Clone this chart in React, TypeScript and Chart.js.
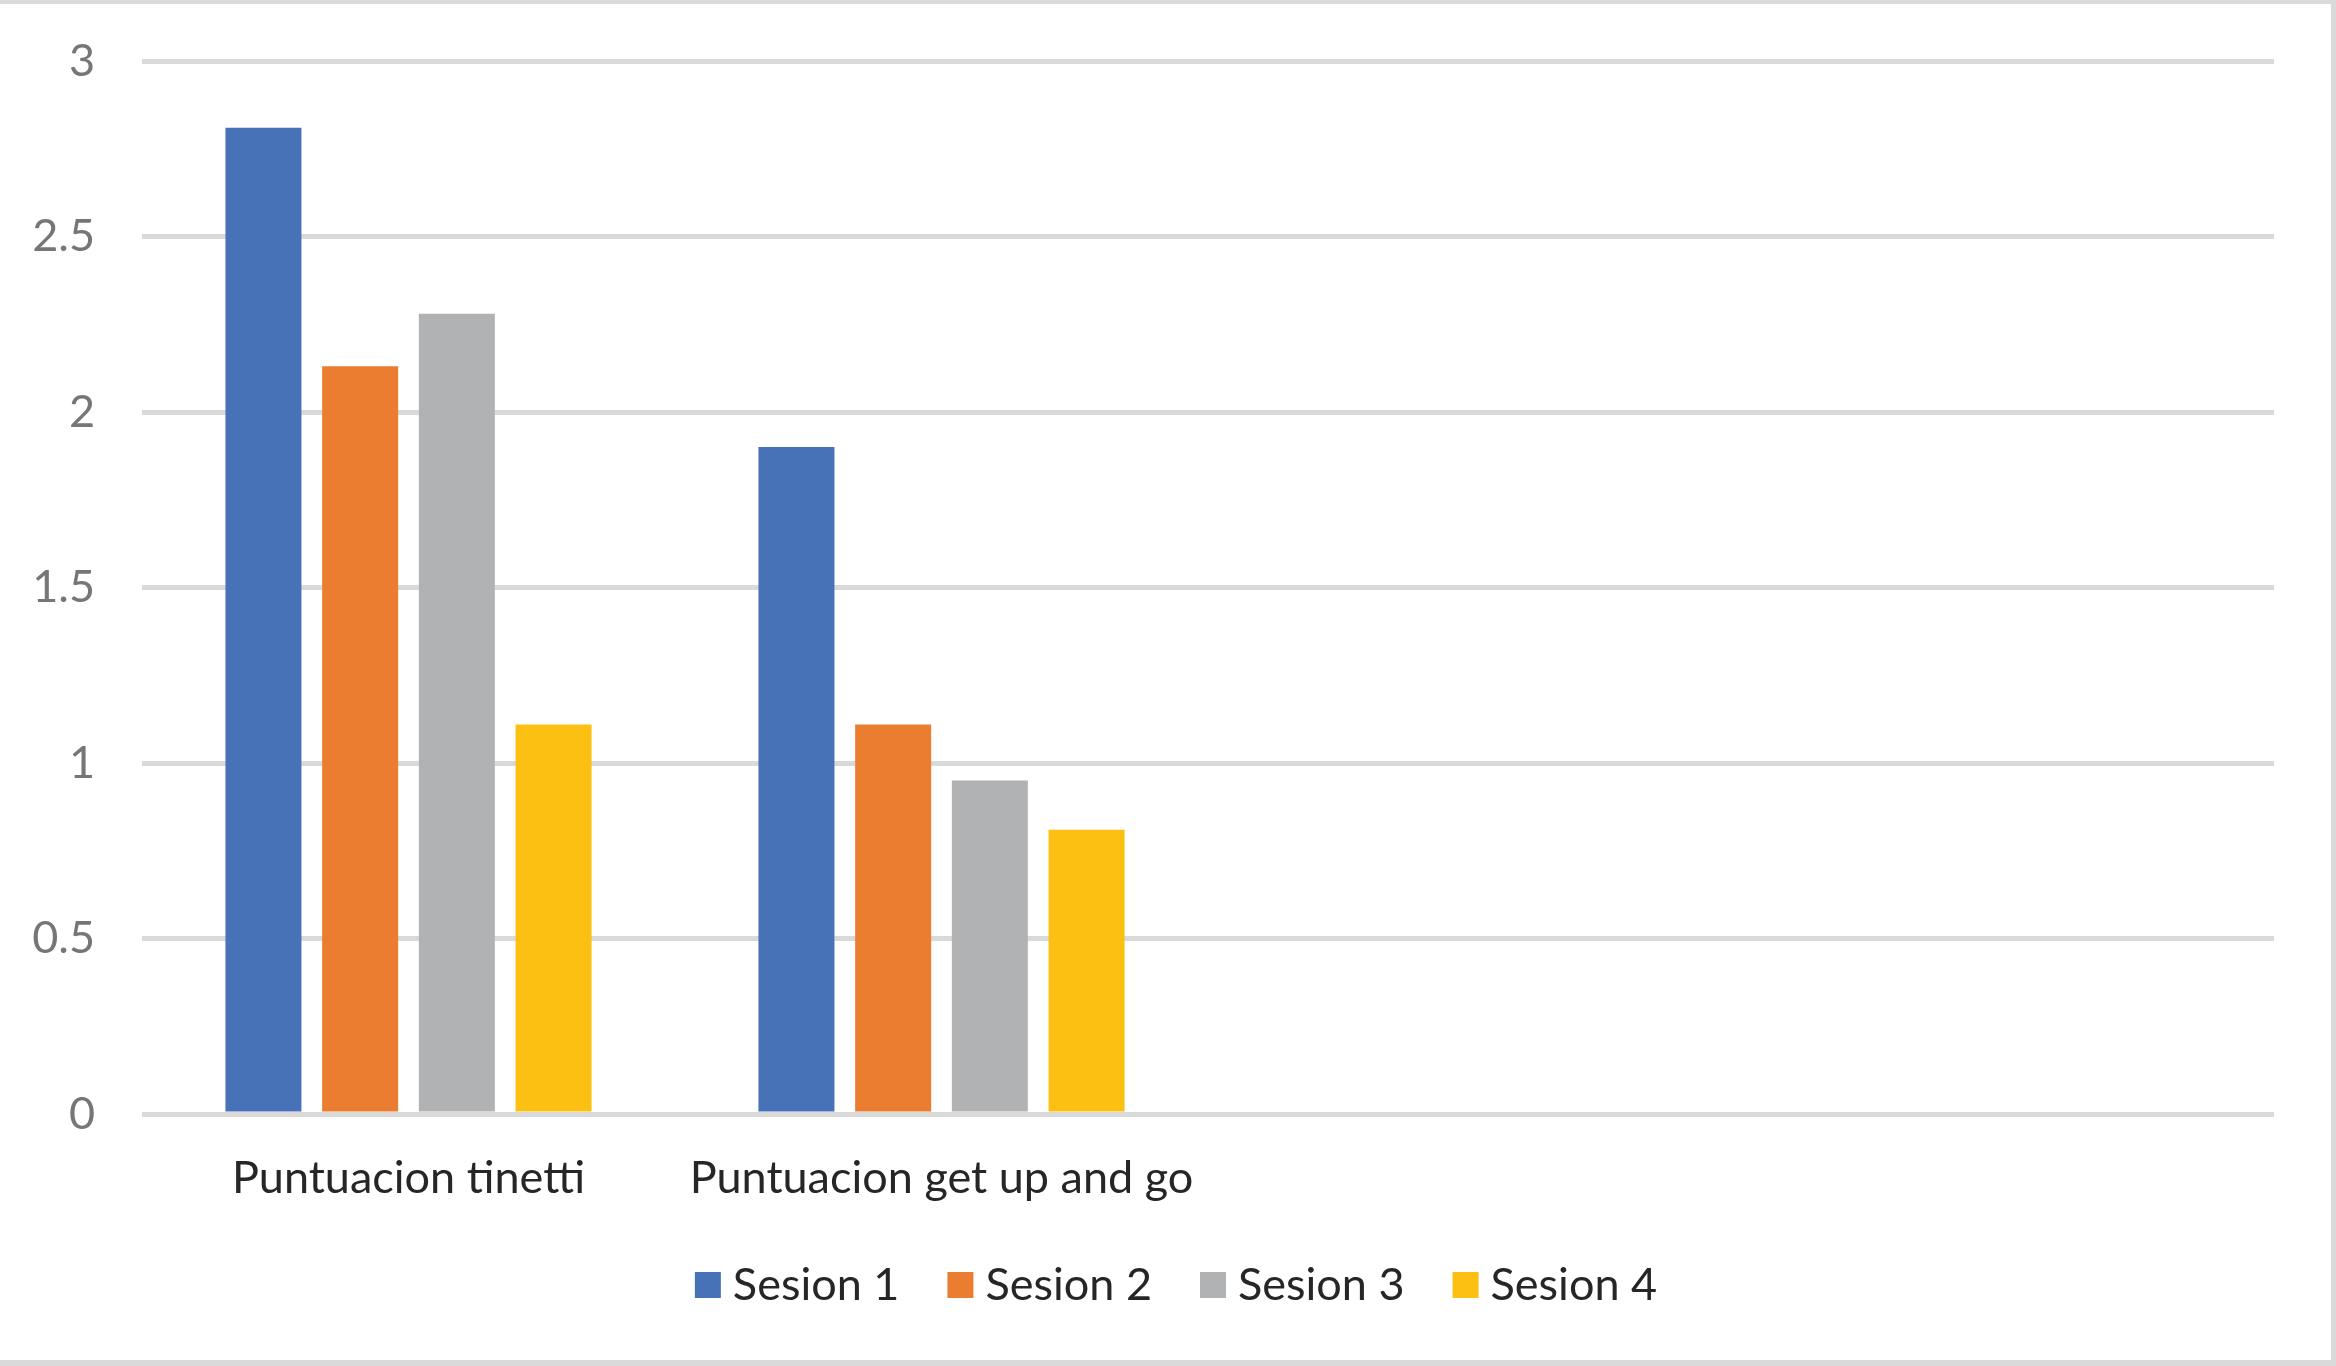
import React, { useEffect, useRef } from "react";
import { Chart, registerables } from "chart.js";

Chart.register(...registerables);

// ---- Data ----
const categories = ["Puntuacion tinetti", "Puntuacion get up and go", "", ""];
const seriesNames = ["Sesion 1", "Sesion 2", "Sesion 3", "Sesion 4"];
const sesion1 = [2.81, 1.9, null, null];
const sesion2 = [2.13, 1.11, null, null];
const sesion3 = [2.28, 0.95, null, null];
const sesion4 = [1.11, 0.81, null, null];
const yTickValues = [0, 0.5, 1, 1.5, 2, 2.5, 3];

// ---- Styles ----
const seriesColors = ["#4872B8", "#EB7D30", "#B1B2B3", "#FCC012"];
const FONT = "Lato, 'Open Sans', sans-serif";
const W = 2336;
const H = 1366;

const decorPlugin = {
  id: "decor",
  afterDraw(chart: any) {
    const ctx = chart.ctx as CanvasRenderingContext2D;
    ctx.save();
    // outer border (top, right, bottom)
    ctx.fillStyle = "#dadada";
    ctx.fillRect(0, 0, W, 4);
    ctx.fillRect(W - 5, 0, 5, H);
    ctx.fillRect(0, H - 6, W, 6);

    // legend
    ctx.font = `45px ${FONT}`;
    ctx.textBaseline = "alphabetic";
    ctx.textAlign = "left";
    const box = 26;
    const gap = 12;
    const itemGap = 48;
    const ds = chart.data.datasets;
    const widths = ds.map((d: any) => ctx.measureText(d.label).width);
    const total =
      widths.reduce((a: number, w: number) => a + box + gap + w, 0) +
      itemGap * (ds.length - 1);
    let x = 1176 - total / 2;
    const baseline = 1300;
    ds.forEach((d: any, i: number) => {
      ctx.fillStyle = d.backgroundColor;
      ctx.fillRect(x, 1272, box, box);
      ctx.fillStyle = "#262626";
      ctx.fillText(d.label, x + box + gap, baseline);
      x += box + gap + widths[i] + itemGap;
    });
    ctx.restore();
  },
};

export default function App() {
  const ref = useRef<HTMLCanvasElement | null>(null);

  useEffect(() => {
    document.body.style.margin = "0";
    const canvas = ref.current;
    if (!canvas) return;
    const seriesData = [sesion1, sesion2, sesion3, sesion4];
    const chart = new Chart(canvas, {
      type: "bar",
      data: {
        labels: categories,
        datasets: seriesNames.map((name, i) => ({
          label: name,
          data: seriesData[i],
          backgroundColor: seriesColors[i],
          borderWidth: 0,
          categoryPercentage: 0.7257,
          barPercentage: 0.786,
        })),
      },
      options: {
        animation: false,
        responsive: false,
        devicePixelRatio: 1,
        layout: { padding: { top: 61, right: 62, left: 0, bottom: 0 } },
        plugins: {
          legend: { display: false },
          tooltip: { enabled: false },
          title: { display: false },
        },
        scales: {
          x: {
            grid: { display: false, drawTicks: false },
            border: { display: false },
            ticks: {
              autoSkip: false,
              maxRotation: 0,
              minRotation: 0,
              padding: 37,
              color: "#262626",
              font: { family: FONT, size: 45 },
            },
            afterFit: (scale: any) => {
              scale.height = 252;
            },
          },
          y: {
            min: 0,
            max: 3,
            afterBuildTicks: (scale: any) => {
              scale.ticks = yTickValues.map((v) => ({ value: v }));
            },
            grid: { color: "#d9d9d9", lineWidth: 5, drawTicks: false },
            border: { display: false },
            ticks: {
              padding: 47,
              color: "#767676",
              font: { family: FONT, size: 45 },
              callback: (v: any) => String(v),
            },
            afterFit: (scale: any) => {
              scale.width = 142;
              scale.paddingTop = 0;
              scale.paddingBottom = 0;
            },
          },
        },
      },
      plugins: [decorPlugin],
    });
    return () => chart.destroy();
  }, []);

  return (
    <canvas
      ref={ref}
      width={W}
      height={H}
      style={{ display: "block", width: W, height: H, background: "#ffffff" }}
    />
  );
}
